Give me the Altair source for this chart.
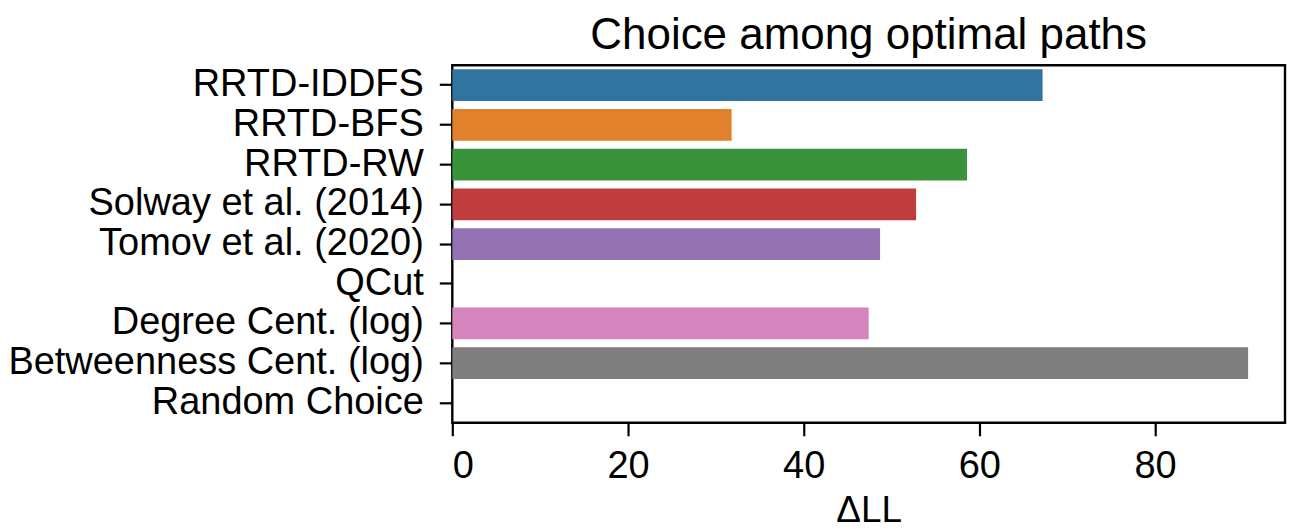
import altair as alt
import pandas as pd

categories = ["RRTD-IDDFS", "RRTD-BFS", "RRTD-RW", "Solway et al. (2014)",
              "Tomov et al. (2020)", "QCut", "Degree Cent. (log)",
              "Betweenness Cent. (log)", "Random Choice"]
values = [67.2, 31.8, 58.6, 52.8, 48.7, 0.0, 47.4, 90.6, 0.0]
colors = ["#3274a1", "#e1812c", "#3a923a", "#c03d3e", "#9372b2",
          "#845b53", "#d684bd", "#7f7f7f", "#a9aa35"]
x_ticks = [0, 20, 40, 60, 80]

df = pd.DataFrame({"model": categories, "dll": values})

FONT = "Liberation Sans"

chart = alt.Chart(df).mark_bar().encode(
    x=alt.X("dll:Q", title="ΔLL",
            scale=alt.Scale(domain=[0, 94.8], nice=False, zero=True),
            axis=alt.Axis(values=x_ticks, grid=False, tickSize=13, tickWidth=2.2,
                          tickColor="black", domain=False, labelFontSize=38,
                          labelColor="black", titleFontSize=37, titleColor="black",
                          titleFontWeight="normal", labelPadding=12, titlePadding=7,
                          labelFont=FONT, titleFont=FONT)),
    y=alt.Y("model:N", title=None, sort=categories,
            scale=alt.Scale(paddingInner=0.2, paddingOuter=0.1),
            axis=alt.Axis(grid=False, tickSize=13, tickWidth=2.2, tickColor="black",
                          domain=False, labelFontSize=38, labelColor="black",
                          labelPadding=16, labelFont=FONT, labelLimit=800)),
    color=alt.Color("model:N", sort=categories,
                    scale=alt.Scale(domain=categories, range=colors), legend=None),
).properties(
    width=834, height=358,
    background="white",
    autosize=alt.AutoSizeParams(type="none"),
    padding={"left": 445, "top": 57, "right": 3, "bottom": 106},
    title=alt.TitleParams("Choice among optimal paths", fontSize=44, font=FONT,
                          fontWeight="normal", color="black", anchor="middle",
                          offset=7),
).configure_view(
    stroke="black", strokeWidth=2.4
)

chart.save("out.html", embed_options={"renderer": "svg", "actions": False})
